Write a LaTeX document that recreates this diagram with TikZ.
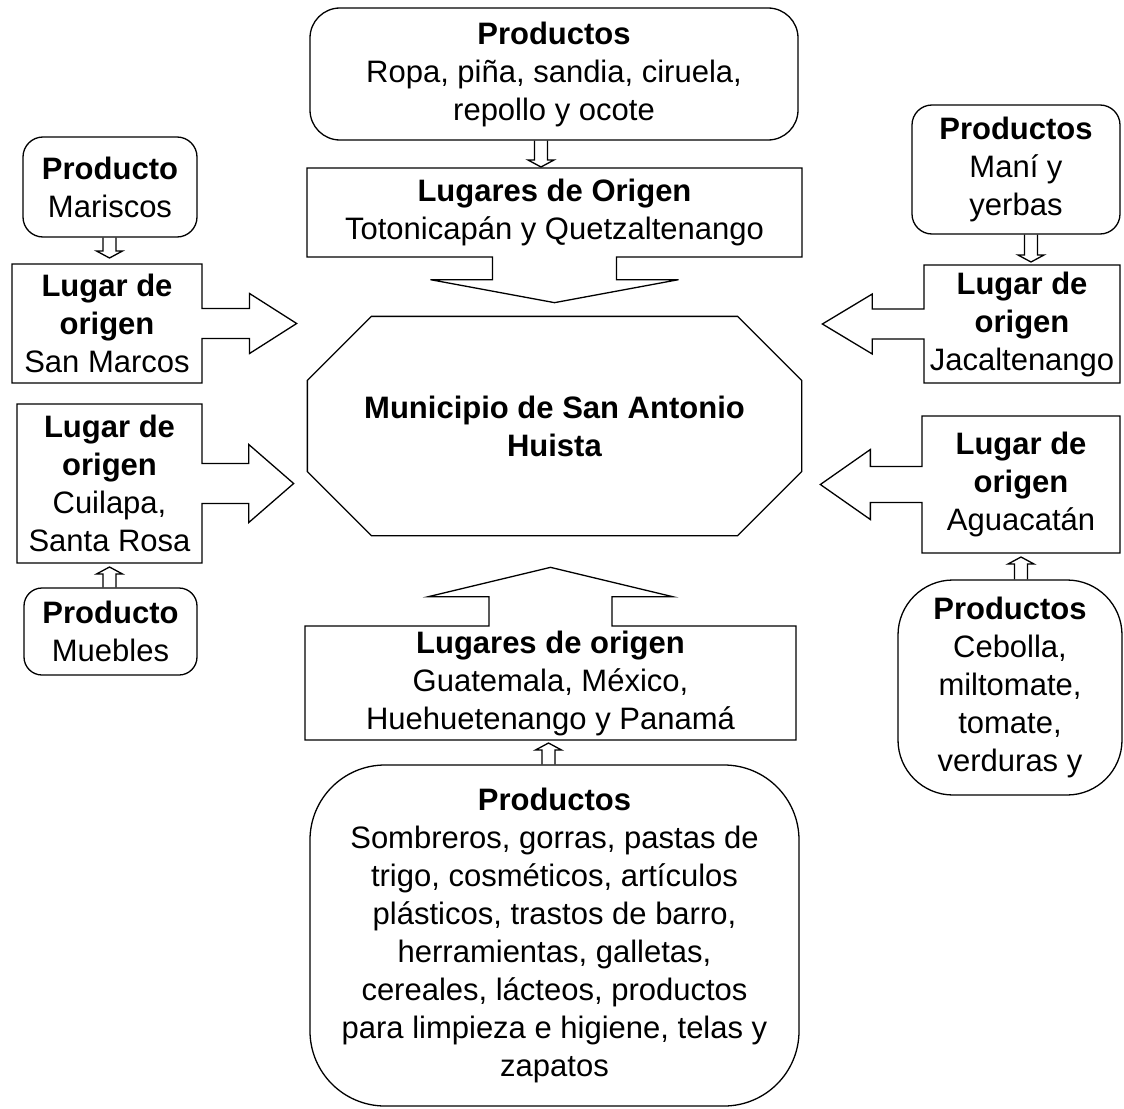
\documentclass[tikz,border=0pt]{standalone}
\usepackage{fontspec}
\setmainfont{Liberation Sans}
\usepackage{tikz}
\usetikzlibrary{shapes.arrows}

\begin{document}
\begin{tikzpicture}[x=1pt, y=-1pt, line width=1.3pt,
    every node/.style={font=\fontsize{31}{38}\selectfont, align=center, inner sep=0pt},
    redonda/.style={draw, rectangle, rounded corners=#1},
    flecha/.style={draw, arrow box, arrow box head indent=0pt,
      arrow box north arrow=0pt, arrow box south arrow=0pt,
      arrow box east arrow=0pt, arrow box west arrow=0pt},
    bajar/.style={to path={([xshift=-6.5pt]\tikztostart) -- ([xshift=-6.5pt,yshift=7pt]\tikztotarget)
      -- ([xshift=-13pt,yshift=7pt]\tikztotarget) -- (\tikztotarget) -- ([xshift=13pt,yshift=7pt]\tikztotarget)
      -- ([xshift=6.5pt,yshift=7pt]\tikztotarget) -- ([xshift=6.5pt]\tikztostart)}},
    subir/.style={to path={([xshift=-6.5pt]\tikztostart) -- ([xshift=-6.5pt,yshift=-7pt]\tikztotarget)
      -- ([xshift=-13pt,yshift=-7pt]\tikztotarget) -- (\tikztotarget) -- ([xshift=13pt,yshift=-7pt]\tikztotarget)
      -- ([xshift=6.5pt,yshift=-7pt]\tikztotarget) -- ([xshift=6.5pt]\tikztostart)}}]

    \useasboundingbox (0,0) rectangle (1124,1108);

    % centro
    \node[rectangle, minimum width=493pt, minimum height=218pt] (muni) at (554.5, 426)
      {\textbf{Municipio de San Antonio}\\\textbf{Huista}};
    \draw ([xshift=64pt]muni.north west) -- ([xshift=-64pt]muni.north east)
      -- ([yshift=-64pt]muni.north east) -- ([yshift=64pt]muni.south east)
      -- ([xshift=-64pt]muni.south east) -- ([xshift=64pt]muni.south west)
      -- ([yshift=64pt]muni.south west) -- ([yshift=-64pt]muni.north west) -- cycle;

    % arriba
    \node[redonda=30pt, minimum width=488pt, minimum height=132pt] (prodA) at (554, 74)
      {\textbf{Productos}\\Ropa, piña, sandia, ciruela,\\repollo y ocote};
    \node[flecha, minimum width=495pt, minimum height=89pt, arrow box south arrow=45pt,
      arrow box shaft width=124pt, arrow box head extend=62pt, arrow box tip angle=159] (lugA) at (554.5, 212.5)
      {\textbf{Lugares de Origen}\\Totonicapán y Quetzaltenango};

    % abajo
    \node[flecha, minimum width=491pt, minimum height=114pt, arrow box north arrow=58pt,
      arrow box shaft width=123pt, arrow box head extend=61pt, arrow box tip angle=153] (lugB) at (550.5, 683)
      {\textbf{Lugares de origen}\\Guatemala, México,\\Huehuetenango y Panamá};
    \node[redonda=75pt, minimum width=489pt, minimum height=341pt] (prodB) at (554.5, 935.5)
      {\textbf{Productos}\\Sombreros, gorras, pastas de\\trigo, cosméticos, artículos\\plásticos, trastos de barro,\\herramientas, galletas,\\cereales, lácteos, productos\\para limpieza e higiene, telas y\\zapatos};

    % izquierda
    \node[redonda=20pt, minimum width=174pt, minimum height=100pt] (prodC) at (110, 187)
      {\textbf{Producto}\\Mariscos};
    \node[flecha, minimum width=190pt, minimum height=119pt, arrow box east arrow=94pt,
      arrow box shaft width=30pt, arrow box head extend=15pt, arrow box tip angle=65] (lugC) at (107, 323.5)
      {\textbf{Lugar de}\\\textbf{origen}\\San Marcos};
    \node[flecha, minimum width=185pt, minimum height=159pt, arrow box east arrow=91pt,
      arrow box shaft width=40pt, arrow box head extend=19pt, arrow box tip angle=82] (lugD) at (109.5, 483.5)
      {\textbf{Lugar de}\\\textbf{origen}\\Cuilapa,\\Santa Rosa};
    \node[redonda=18pt, minimum width=173pt, minimum height=87pt] (prodD) at (110.5, 631.5)
      {\textbf{Producto}\\Muebles};

    % derecha
    \node[redonda=20pt, minimum width=208pt, minimum height=129pt] (prodE) at (1016, 169.5)
      {\textbf{Productos}\\Maní y\\yerbas};
    \node[flecha, minimum width=196pt, minimum height=118pt, arrow box west arrow=101pt,
      arrow box shaft width=30pt, arrow box head extend=15pt, arrow box tip angle=62] (lugE) at (1022, 324)
      {\textbf{Lugar de}\\\textbf{origen}\\Jacaltenango};
    \node[flecha, minimum width=198pt, minimum height=137pt, arrow box west arrow=101pt,
      arrow box shaft width=36pt, arrow box head extend=17pt, arrow box tip angle=70] (lugF) at (1021, 484.5)
      {\textbf{Lugar de}\\\textbf{origen}\\Aguacatán};
    \node[redonda=55pt, minimum width=224pt, minimum height=215pt] (prodF) at (1010, 687.5)
      {\textbf{Productos}\\Cebolla,\\miltomate,\\tomate,\\verduras y};

    % puntas de las flechas chicas
    \coordinate (t1) at (541, 167);
    \coordinate (t2) at (109.5, 258);
    \coordinate (t3) at (1031, 262);
    \coordinate (t4) at (109.5, 567);
    \coordinate (t5) at (1021, 557);
    \coordinate (t6) at (548.5, 743);

    \draw (prodA.south -| t1) edge[bajar] (t1);
    \draw (prodC.south -| t2) edge[bajar] (t2);
    \draw (prodE.south -| t3) edge[bajar] (t3);
    \draw (prodD.north -| t4) edge[subir] (t4);
    \draw (prodF.north -| t5) edge[subir] (t5);
    \draw (prodB.north -| t6) edge[subir] (t6);
  \end{tikzpicture}
\end{document}
